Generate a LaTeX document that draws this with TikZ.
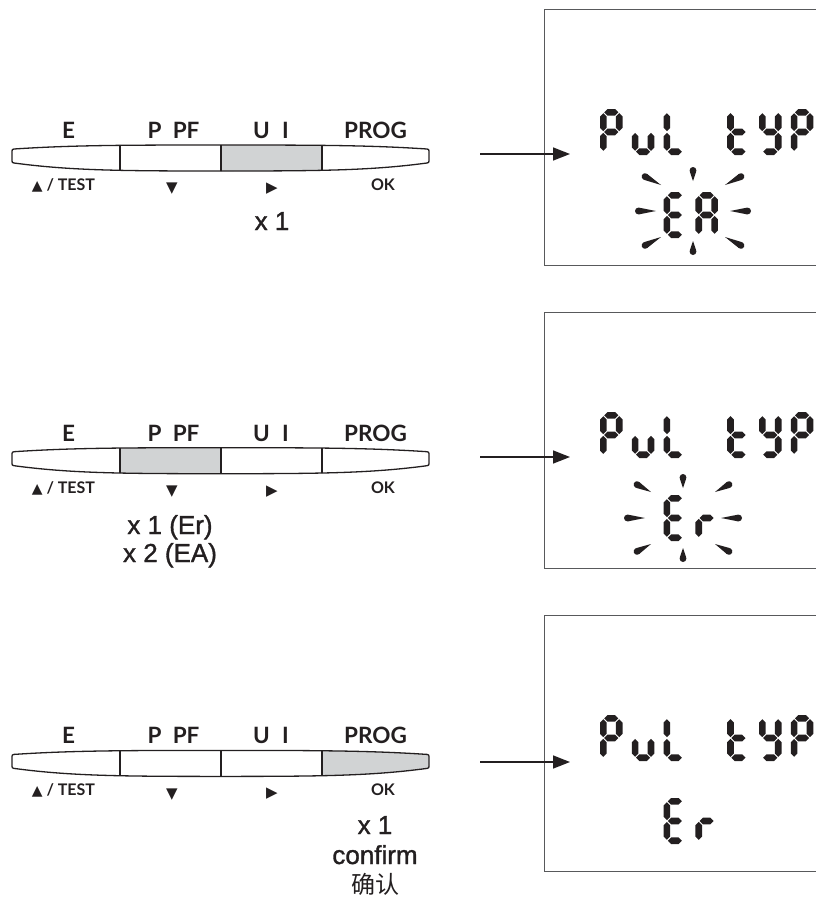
\documentclass[tikz,border=0pt]{standalone}
\usepackage{fontspec}
\setmainfont{Liberation Sans}
\newfontfamily\cntfont{Liberation Sans}[FakeBold=1.3]
\newfontfamily\btnfont{Lato}
\newfontfamily\symfont{DejaVu Sans}
\newfontfamily\cjkfont{Noto Sans CJK SC}
\usetikzlibrary{arrows.meta}
\definecolor{ink}{RGB}{35,31,32}
\definecolor{btnfill}{RGB}{209,211,212}
\definecolor{boxline}{RGB}{88,89,91}
\tikzset{
 btnlbl/.style={font=\btnfont\bfseries\fontsize{22.5}{24}\selectfont, text=ink, anchor=base, inner sep=0pt},
 keylbl/.style={font=\btnfont\bfseries\fontsize{16}{18}\selectfont, text=ink, anchor=base, inner sep=0pt},
 symlbl/.style={font=\symfont\fontsize{15}{16}\selectfont, text=ink, inner sep=0pt},
 cnt/.style={font=\cntfont\fontsize{26}{28}\selectfont, text=ink, anchor=base, inner sep=0pt},
 cjklbl/.style={font=\cjkfont\fontsize{24}{26}\selectfont, text=ink, anchor=base, inner sep=0pt},
 barline/.style={draw=ink, line width=1.3pt},
 divline/.style={draw=ink, line width=1.3pt},
 arr/.style={draw=ink, line width=1.6pt, -{Triangle[length=17pt,width=13pt]}},
 dispbox/.style={draw=boxline, line width=1pt, minimum width=320pt, minimum height=256pt, anchor=north west, inner sep=0pt},
 segc/.style={fill=ink},
}
% button bar outline
\newcommand\barpath{(14,149) .. controls (70,145.3) and (120,145) .. (220.5,145) .. controls (321,145) and (371,145.3) .. (427,149) .. controls (428.5,149.1) and (429,149.8) .. (429,151) -- (429,161) .. controls (429,162.2) and (428.5,162.9) .. (427,163) .. controls (371,170.5) and (321,171) .. (220.5,171) .. controls (120,171) and (70,170.5) .. (14,163) .. controls (12.5,162.9) and (12,162.2) .. (12,161) -- (12,151) .. controls (12,149.8) and (12.5,149.1) .. (14,149) -- cycle}
% seven segment geometry
\def\lcdh{3.3}\def\lcdg{0.9}
\def\lcdxL{3.3}\def\lcdxR{19.2}\def\lcdyT{3.3}\def\lcdyM{23}\def\lcdyB{42.7}
\newcommand\hsg[3]{\fill[segc] ({#1+\lcdg},{#3}) -- ({#1+\lcdg+\lcdh},{#3-\lcdh}) -- ({#2-\lcdg-\lcdh},{#3-\lcdh}) -- ({#2-\lcdg},{#3}) -- ({#2-\lcdg-\lcdh},{#3+\lcdh}) -- ({#1+\lcdg+\lcdh},{#3+\lcdh}) -- cycle;}
\newcommand\vsg[3]{\fill[segc] ({#1},{#2+\lcdg}) -- ({#1+\lcdh},{#2+\lcdg+\lcdh}) -- ({#1+\lcdh},{#3-\lcdg-\lcdh}) -- ({#1},{#3-\lcdg}) -- ({#1-\lcdh},{#3-\lcdg-\lcdh}) -- ({#1-\lcdh},{#2+\lcdg+\lcdh}) -- cycle;}
\newcommand\sgA{\hsg{\lcdxL}{\lcdxR}{\lcdyT}}
\newcommand\sgB{\vsg{\lcdxR}{\lcdyT}{\lcdyM}}
\newcommand\sgC{\vsg{\lcdxR}{\lcdyM}{\lcdyB}}
\newcommand\sgD{\hsg{\lcdxL}{\lcdxR}{\lcdyB}}
\newcommand\sgE{\vsg{\lcdxL}{\lcdyM}{\lcdyB}}
\newcommand\sgF{\vsg{\lcdxL}{\lcdyT}{\lcdyM}}
\newcommand\sgG{\hsg{\lcdxL}{\lcdxR}{\lcdyM}}
\newcommand\lcd[3]{\begin{scope}[shift={(#1,#2)}]#3\end{scope}}
\newcommand\chP{\sgA\sgB\sgF\sgG\sgE}
\newcommand\chu{\sgC\sgD\sgE}
\newcommand\chL{\sgF\sgE\sgD}
\newcommand\cht{\sgF\sgE\sgD\sgG}
\newcommand\chy{\sgF\sgB\sgG\sgC\sgD}
\newcommand\chE{\sgA\sgF\sgG\sgE\sgD}
\newcommand\chA{\sgA\sgB\sgC\sgE\sgF\sgG}
\newcommand\chr{\sgE\sgG}
\newcommand\pultyp[1]{\lcd{600}{#1}{\chP}\lcd{631.8}{#1}{\chu}\lcd{663.6}{#1}{\chL}\lcd{727.2}{#1}{\cht}\lcd{759}{#1}{\chy}\lcd{790.8}{#1}{\chP}}
% blinking rays
\def\rayr{3.4}
\newcommand\ray[4]{%
 \pgfmathsetmacro\rayang{atan2(-(#4)+(#2),(#3)-(#1))}%
 \pgfmathsetmacro\raylen{veclen((#3)-(#1),(#4)-(#2))}%
 \pgfmathsetmacro\rayd{\raylen-\rayr}%
 \pgfmathsetmacro\rayty{\rayr*sqrt(1-(\rayr/\rayd)^2)}%
 \pgfmathsetmacro\raytx{\rayd-\rayr*\rayr/\rayd}%
 \begin{scope}[shift={(#1,#2)},rotate=\rayang]
  \fill[ink] (0,0) -- (\raytx,\rayty) -- (\raytx,-\rayty) -- cycle;
  \fill[ink] (\rayd,0) circle[radius=\rayr pt];
 \end{scope}}
% one button row
\newcommand\buttonrow[4]{%
 \begin{scope}[shift={(0,#2)}]
  \begin{scope}\clip (#3,100) rectangle (#4,200); \fill[btnfill] \barpath; \end{scope}
  \begin{scope}\clip \barpath; \draw[divline] (120,130) -- (120,190) (221,130) -- (221,190) (322,130) -- (322,190); \end{scope}
  \draw[barline] \barpath;
  \node[btnlbl] (lE#1) at (68.5,138.3) {E};
  \node[btnlbl] (lP#1) at (173.5,138.3) {P\hspace{0.5em}PF};
  \node[btnlbl] (lU#1) at (271,138.3) {U\hspace{0.55em}I};
  \node[btnlbl] (lG#1) at (375.5,138.3) {PROG};
  \node[keylbl] (kT#1) at (63.5,190.5) {{\symfont\fontsize{14}{14}\selectfont ▲} / TEST};
  \node[symlbl] (kD#1) at (172,189) {▼};
  \node[symlbl] (kR#1) at (272,188.5) {▶};
  \node[keylbl] (kO#1) at (383,190.5) {OK};
 \end{scope}}
\begin{document}
\begin{tikzpicture}[x=1pt,y=-1pt]
\useasboundingbox (0,0) rectangle (816,900);
\clip (0,0) rectangle (816,900);
% rows of buttons
\buttonrow{1}{0}{221}{322}
\buttonrow{2}{302.7}{120}{221}
\buttonrow{3}{605.4}{322}{440}
% counts
\node[cnt] (n1) at (272,230) {x 1};
\node[cnt] (n2a) at (170,534) {x 1 (Er)};
\node[cnt] (n2b) at (170,562) {x 2 (EA)};
\node[cnt] (n3a) at (375,834) {x 1};
\node[cnt] (n3b) at (375,864) {confirm};
\node[cjklbl] (n3c) at (375,893) {确认};
% displays
\node[dispbox] (d1) at (544,9) {};
\node[dispbox] (d2) at (544,312) {};
\node[dispbox] (d3) at (544,615) {};
% arrows
\coordinate (a1s) at (480,154); \coordinate (a1e) at (570,154);
\coordinate (a2s) at (480,457); \coordinate (a2e) at (570,457);
\coordinate (a3s) at (480,762); \coordinate (a3e) at (570,762);
\draw[arr] (a1s) -- (a1e);
\draw[arr] (a2s) -- (a2e);
\draw[arr] (a3s) -- (a3e);
% display contents
\pultyp{109}
\lcd{663.6}{192}{\chE}\lcd{695.4}{192}{\chA}
\ray{693}{181}{693}{167}\ray{693}{241}{693}{255}
\ray{656}{211}{635}{211}\ray{730}{211}{751}{211}
\ray{661}{185}{642}{175}\ray{725}{185}{744}{175}
\ray{661}{237}{642}{247}\ray{725}{237}{744}{247}
\pultyp{412}
\lcd{663.6}{495}{\chE}\lcd{695.4}{495}{\chr}
\ray{683}{488}{683}{474}\ray{683}{548}{683}{562}
\ray{645}{518}{624}{518}\ray{721}{518}{742}{518}
\ray{651}{492}{634}{483}\ray{715}{492}{732}{483}
\ray{651}{544}{634}{553}\ray{715}{544}{732}{553}
\pultyp{715}
\lcd{663.6}{798}{\chE}\lcd{695.4}{798}{\chr}
\end{tikzpicture}
\end{document}
